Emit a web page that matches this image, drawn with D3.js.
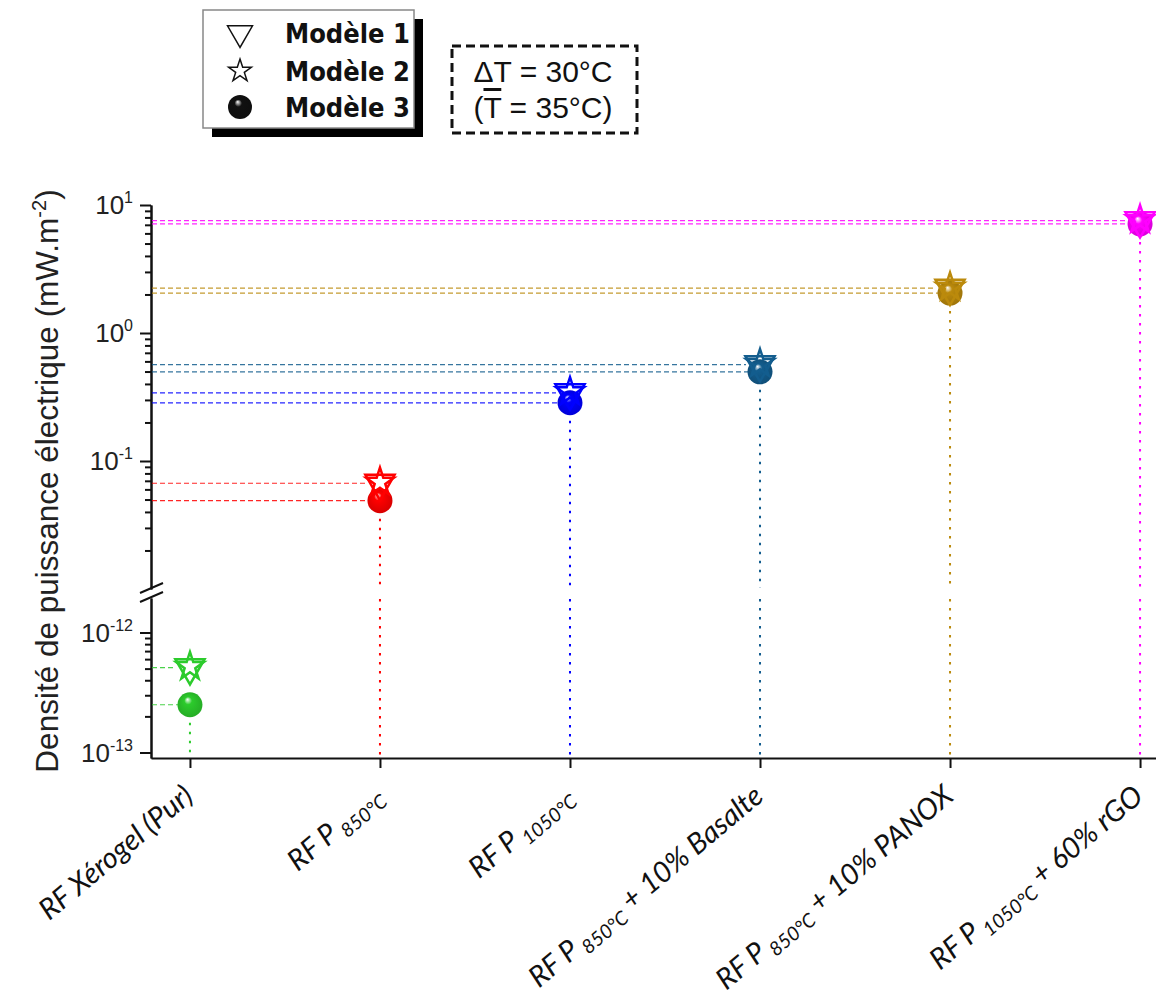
<!DOCTYPE html>
<html><head><meta charset="utf-8">
<script src="https://cdn.jsdelivr.net/npm/d3@7"></script>
<style>
html,body{margin:0;padding:0;background:#fff;}
svg{display:block;}
</style></head>
<body>
<script>
// ---------------- DATA ----------------
const categories = ["xerogel", "p850", "p1050", "basalte", "panox", "rgo"];
const labelMain = ["RF Xérogel (Pur)", "RF P", "RF P", "RF P", "RF P", "RF P"];
const labelSub  = ["", "850°C", "1050°C", "850°C", "850°C", "1050°C"];
const labelTail = ["", "", "", " + 10% Basalte", " + 10% PANOX", " + 60% rGO"];
const colors = ["#2ccb2c", "#ff0000", "#0000ff", "#135d8e", "#bb8a0c", "#ff00ff"];
// Modèle 1 (triangle), Modèle 2 (étoile), Modèle 3 (sphère) — mW.m-2
const model1 = [5.1e-13, 0.067, 0.341, 0.566, 2.24, 7.54];
const model2 = [5.1e-13, 0.067, 0.341, 0.566, 2.24, 7.54];
const model3 = [2.5e-13, 0.049, 0.285, 0.497, 2.05, 7.11];
const topTicks = [0.1, 1, 10];
const topTickExp = ["-1", "0", "1"];
const bottomTicks = [1e-13, 1e-12];
const bottomTickExp = ["-13", "-12"];
const legendLabels = ["Modèle 1", "Modèle 2", "Modèle 3"];

// ---------------- SVG ----------------
const W = 1156, H = 996;
const svg = d3.select("body").append("svg").attr("width", W).attr("height", H)
  .style("font-family", "'Liberation Sans', Arial, sans-serif");
const defs = svg.append("defs");

const axisX = 151, axisY = 758;
const x = d3.scalePoint().domain(categories).range([151, 1179]).padding(0.205);
const yTop = d3.scaleLog().domain([1e-2, 1e1]).range([589, 205]);
const yBot = d3.scaleLog().domain([1e-13, 1e-12]).range([752.5, 632.5]);
yBot.domain([yBot.invert(758), yBot.invert(598)]).range([758, 598]);
const yv = v => v > 1e-6 ? yTop(v) : yBot(v);

// gradients for spheres
function sphereGrad(id, col) {
  const g = defs.append("radialGradient").attr("id", id)
    .attr("cx", "50%").attr("cy", "50%").attr("r", "55%")
    .attr("fx", "40%").attr("fy", "28%");
  g.append("stop").attr("offset", "0%").attr("stop-color", "#ffffff");
  g.append("stop").attr("offset", "28%").attr("stop-color", col);
  g.append("stop").attr("offset", "100%").attr("stop-color", d3.color(col).darker(0.5));
}
colors.forEach((c, i) => sphereGrad("sg" + i, c));
sphereGrad("sgk", "#111111");

// ---------------- AXES ----------------
const axTopMaj = d3.axisLeft(yTop).tickValues(topTicks).tickSize(11).tickSizeOuter(0).tickFormat("");
const minorTop = [];
[0.01, 0.1, 1].forEach(b => { for (let k = 2; k <= 9; k++) minorTop.push(b * k); });
const axTopMin = d3.axisLeft(yTop).tickValues(minorTop).tickSize(6).tickSizeOuter(0).tickFormat("");
const minorBot = [];
for (let k = 2; k <= 9; k++) minorBot.push(1e-13 * k);
const axBotMaj = d3.axisLeft(yBot).tickValues(bottomTicks).tickSize(11).tickSizeOuter(0).tickFormat("");
const axBotMin = d3.axisLeft(yBot).tickValues(minorBot).tickSize(6).tickSizeOuter(0).tickFormat("");

[axTopMaj, axTopMin, axBotMaj, axBotMin].forEach(a => {
  const g = svg.append("g").attr("transform", `translate(${axisX},0)`).call(a);
  g.selectAll("path,line").attr("stroke", "#111").attr("stroke-width", 2);
});

const axB = d3.axisBottom(x).tickSize(10).tickSizeOuter(0).tickFormat("");
const gx = svg.append("g").attr("transform", `translate(0,${axisY})`).call(axB);
gx.selectAll("path,line").attr("stroke", "#111").attr("stroke-width", 2);

// break marks
const brk = svg.append("g").attr("stroke", "#111").attr("stroke-width", 2);
brk.append("line").attr("x1", axisX - 11).attr("y1", yTop.range()[0] + 4).attr("x2", axisX + 12).attr("y2", yTop.range()[0] - 6);
brk.append("line").attr("x1", axisX - 11).attr("y1", yBot.range()[1] + 4).attr("x2", axisX + 12).attr("y2", yBot.range()[1] - 6);

// y tick labels
function yLabel(yPos, exp) {
  const t = svg.append("text").attr("x", 133).attr("y", yPos + 9)
    .attr("text-anchor", "end").attr("font-size", 26).attr("fill", "#222");
  t.append("tspan").text("10");
  t.append("tspan").attr("dy", -11).attr("font-size", 16).text(exp);
}
topTicks.forEach((v, i) => yLabel(yTop(v), topTickExp[i]));
bottomTicks.forEach((v, i) => yLabel(yBot(v), bottomTickExp[i]));

// y title
const yt = svg.append("text").attr("transform", `translate(58,481) rotate(-90)`)
  .attr("text-anchor", "middle").attr("font-size", 31.5).attr("fill", "#222");
yt.append("tspan").text("Densité de puissance électrique (mW.m");
yt.append("tspan").attr("dy", -12).attr("font-size", 20).text("-2");
yt.append("tspan").attr("dy", 12).text(")");

// x labels
categories.forEach((c, i) => {
  const t = svg.append("text")
    .attr("transform", `translate(${x(c) + 5},${axisY + 41}) rotate(-40)`)
    .attr("text-anchor", "end").attr("font-size", 29)
    .attr("font-family", "Lato, 'Open Sans', sans-serif").attr("font-style", "italic")
    .attr("fill", "#111");
  t.append("tspan").text(labelMain[i]);
  if (labelSub[i]) {
    t.append("tspan").attr("dx", 5).attr("dy", 6).attr("font-size", 19.5).text(labelSub[i]);
    t.append("tspan").attr("dy", -6).text(labelTail[i]);
  }
});

// ---------------- MARKS ----------------
const marks = svg.append("g");
const gapTop = yTop.range()[0] - 1, gapBot = yBot.range()[1] + 1;
categories.forEach((c, i) => {
  const cx = x(c), col = colors[i];
  const y0 = yv(model3[i]);
  const segs = y0 < gapTop ? [[y0, gapTop], [gapBot, axisY]] : [[y0, axisY]];
  segs.forEach(s => marks.append("line").attr("x1", cx).attr("x2", cx).attr("y1", s[0]).attr("y2", s[1])
    .attr("stroke", col).attr("stroke-width", 2).attr("stroke-dasharray", "2.5,6.5"));
  marks.append("line").attr("x1", axisX + 1).attr("x2", cx - 14).attr("y1", yv(model1[i])).attr("y2", yv(model1[i]))
    .attr("stroke", col).attr("stroke-width", 1.2).attr("stroke-dasharray", "5,3").attr("opacity", 0.85);
  marks.append("line").attr("x1", axisX + 1).attr("x2", cx - 12).attr("y1", yv(model3[i])).attr("y2", yv(model3[i]))
    .attr("stroke", col).attr("stroke-width", 1.2).attr("stroke-dasharray", "5,3").attr("opacity", 0.85);
});
categories.forEach((c, i) => {
  const cx = x(c), col = colors[i];
  marks.append("circle").attr("cx", cx).attr("cy", yv(model3[i])).attr("r", 12.5)
    .attr("fill", `url(#sg${i})`);
  marks.append("path").attr("d", d3.symbol(d3.symbolTriangle, 370)())
    .attr("transform", `translate(${cx},${yv(model1[i])}) rotate(180)`)
    .attr("fill", "none").attr("stroke", col).attr("stroke-width", 2.5);
  marks.append("path").attr("d", d3.symbol(d3.symbolStar, 240)())
    .attr("transform", `translate(${cx},${yv(model2[i]) - 1})`)
    .attr("fill", "none").attr("stroke", col).attr("stroke-width", 2.5);
});

// ---------------- LEGEND ----------------
const lg = svg.append("g");
lg.append("rect").attr("x", 212).attr("y", 19).attr("width", 211).attr("height", 118).attr("fill", "#000");
lg.append("rect").attr("x", 203).attr("y", 10).attr("width", 211).attr("height", 118)
  .attr("fill", "#fff").attr("stroke", "#888").attr("stroke-width", 1.5);
const rowY = [33, 71, 107];
lg.append("path").attr("d", d3.symbol(d3.symbolTriangle, 270)())
  .attr("transform", `translate(240,${rowY[0]}) rotate(180)`).attr("fill", "none").attr("stroke", "#111").attr("stroke-width", 1.5);
lg.append("path").attr("d", d3.symbol(d3.symbolStar, 160)())
  .attr("transform", `translate(240,${rowY[1]})`).attr("fill", "none").attr("stroke", "#111").attr("stroke-width", 1.5);
lg.append("circle").attr("cx", 240).attr("cy", rowY[2]).attr("r", 12).attr("fill", "url(#sgk)");
legendLabels.forEach((l, i) => {
  lg.append("text").attr("x", 285).attr("y", rowY[i] + 10).attr("font-size", 27)
    .attr("font-family", "'DejaVu Sans Condensed', 'DejaVu Sans', sans-serif").attr("font-weight", "bold")
    .attr("fill", "#111").text(l);
});

// ΔT box
const bx = svg.append("g");
bx.append("rect").attr("x", 452).attr("y", 46).attr("width", 185).attr("height", 87)
  .attr("fill", "none").attr("stroke", "#111").attr("stroke-width", 3).attr("stroke-dasharray", "9,5");
bx.append("text").attr("x", 543).attr("y", 82).attr("text-anchor", "middle").attr("font-size", 30).attr("fill", "#111")
  .text("ΔT = 30°C");
const t2 = bx.append("text").attr("x", 543).attr("y", 118).attr("text-anchor", "middle").attr("font-size", 30).attr("fill", "#111");
t2.append("tspan").text("(");
t2.append("tspan").style("text-decoration", "overline").text("T");
t2.append("tspan").text(" = 35°C)");
</script>
</body></html>
